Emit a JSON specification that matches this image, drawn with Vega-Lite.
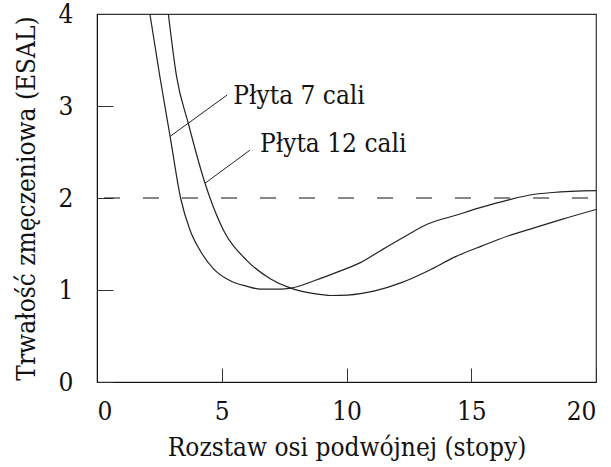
{
  "$schema": "https://vega.github.io/schema/vega-lite/v6.json",
  "width": 499,
  "height": 368,
  "autosize": {"type": "none"},
  "padding": {"left": 97, "top": 14, "right": 15, "bottom": 85},
  "background": "white",
  "config": {
    "view": {"stroke": "#333", "strokeWidth": 1.2},
    "font": "DejaVu Serif Condensed",
    "axis": {
      "labelFont": "DejaVu Serif Condensed",
      "titleFont": "DejaVu Serif Condensed",
      "labelFontSize": 26,
      "titleFontSize": 26,
      "titleFontWeight": "normal",
      "labelColor": "#111",
      "titleColor": "#111",
      "domainColor": "#111",
      "tickColor": "#333",
      "grid": false
    }
  },
  "datasets": {
    "curves": [
      {"series": "Płyta 7 cali", "x": 2.12, "y": 4.0},
      {"series": "Płyta 7 cali", "x": 2.52, "y": 3.32},
      {"series": "Płyta 7 cali", "x": 2.93, "y": 2.67},
      {"series": "Płyta 7 cali", "x": 3.35, "y": 2.0},
      {"series": "Płyta 7 cali", "x": 3.73, "y": 1.65},
      {"series": "Płyta 7 cali", "x": 4.13, "y": 1.43},
      {"series": "Płyta 7 cali", "x": 4.67, "y": 1.23},
      {"series": "Płyta 7 cali", "x": 5.34, "y": 1.1},
      {"series": "Płyta 7 cali", "x": 6.01, "y": 1.04},
      {"series": "Płyta 7 cali", "x": 6.55, "y": 1.01},
      {"series": "Płyta 7 cali", "x": 7.36, "y": 1.01},
      {"series": "Płyta 7 cali", "x": 7.76, "y": 1.02},
      {"series": "Płyta 7 cali", "x": 8.7, "y": 1.1},
      {"series": "Płyta 7 cali", "x": 9.78, "y": 1.21},
      {"series": "Płyta 7 cali", "x": 10.58, "y": 1.3},
      {"series": "Płyta 7 cali", "x": 11.38, "y": 1.43},
      {"series": "Płyta 7 cali", "x": 12.2, "y": 1.56},
      {"series": "Płyta 7 cali", "x": 13.28, "y": 1.72},
      {"series": "Płyta 7 cali", "x": 14.35, "y": 1.81},
      {"series": "Płyta 7 cali", "x": 15.43, "y": 1.9},
      {"series": "Płyta 7 cali", "x": 16.5, "y": 1.98},
      {"series": "Płyta 7 cali", "x": 17.3, "y": 2.03},
      {"series": "Płyta 7 cali", "x": 18.26, "y": 2.06},
      {"series": "Płyta 7 cali", "x": 20.0, "y": 2.08},
      {"series": "Płyta 12 cali", "x": 2.86, "y": 4.0},
      {"series": "Płyta 12 cali", "x": 3.19, "y": 3.32},
      {"series": "Płyta 12 cali", "x": 3.66, "y": 2.81},
      {"series": "Płyta 12 cali", "x": 4.33, "y": 2.16},
      {"series": "Płyta 12 cali", "x": 4.53, "y": 2.0},
      {"series": "Płyta 12 cali", "x": 5.07, "y": 1.65},
      {"series": "Płyta 12 cali", "x": 6.01, "y": 1.32},
      {"series": "Płyta 12 cali", "x": 6.96, "y": 1.12},
      {"series": "Płyta 12 cali", "x": 7.76, "y": 1.02},
      {"series": "Płyta 12 cali", "x": 8.7, "y": 0.96},
      {"series": "Płyta 12 cali", "x": 9.38, "y": 0.94},
      {"series": "Płyta 12 cali", "x": 10.05, "y": 0.945},
      {"series": "Płyta 12 cali", "x": 11.13, "y": 0.99},
      {"series": "Płyta 12 cali", "x": 12.2, "y": 1.08},
      {"series": "Płyta 12 cali", "x": 13.28, "y": 1.21},
      {"series": "Płyta 12 cali", "x": 14.35, "y": 1.36},
      {"series": "Płyta 12 cali", "x": 15.43, "y": 1.48},
      {"series": "Płyta 12 cali", "x": 16.5, "y": 1.59},
      {"series": "Płyta 12 cali", "x": 17.58, "y": 1.68},
      {"series": "Płyta 12 cali", "x": 18.66, "y": 1.77},
      {"series": "Płyta 12 cali", "x": 20.0, "y": 1.875}
    ],
    "labels": [
      {"label": "Płyta 7 cali", "x0": 2.93, "y0": 2.67, "x1": 5.22, "y1": 3.12, "tx": 5.46, "ty": 3.02},
      {"label": "Płyta 12 cali", "x0": 4.33, "y0": 2.16, "x1": 6.13, "y1": 2.52, "tx": 6.53, "ty": 2.5}
    ],
    "ref": [{"y": 2}]
  },
  "layer": [
    {
      "data": {"name": "ref"},
      "mark": {"type": "rule", "stroke": "#111", "strokeWidth": 1.1, "strokeDash": [16, 23], "strokeDashOffset": 31},
      "encoding": {
        "y": {"field": "y", "type": "quantitative", "scale": {"domain": [0, 4]}}
      }
    },
    {
      "data": {"name": "curves"},
      "mark": {"type": "line", "interpolate": "monotone", "stroke": "#222", "strokeWidth": 1.2, "clip": true},
      "encoding": {
        "x": {
          "field": "x", "type": "quantitative",
          "scale": {"domain": [0, 20], "nice": false},
          "axis": {"values": [0, 5, 10, 15, 20], "format": "d", "tickSize": -14, "labelPadding": 30, "title": "Rozstaw osi podwójnej (stopy)", "titlePadding": 10}
        },
        "y": {
          "field": "y", "type": "quantitative",
          "scale": {"domain": [0, 4], "nice": false},
          "axis": {"values": [0, 1, 2, 3, 4], "format": "d", "tickSize": -16, "labelPadding": 40, "title": "Trwałość zmęczeniowa (ESAL)", "titlePadding": 19}
        },
        "detail": {"field": "series", "type": "nominal"}
      }
    },
    {
      "data": {"name": "labels"},
      "mark": {"type": "rule", "stroke": "#222", "strokeWidth": 1},
      "encoding": {
        "x": {"field": "x0", "type": "quantitative"},
        "y": {"field": "y0", "type": "quantitative"},
        "x2": {"field": "x1"},
        "y2": {"field": "y1"}
      }
    },
    {
      "data": {"name": "labels"},
      "mark": {"type": "text", "align": "left", "baseline": "alphabetic", "font": "DejaVu Serif Condensed", "fontSize": 26, "color": "#111"},
      "encoding": {
        "x": {"field": "tx", "type": "quantitative"},
        "y": {"field": "ty", "type": "quantitative"},
        "text": {"field": "label", "type": "nominal"}
      }
    }
  ]
}
